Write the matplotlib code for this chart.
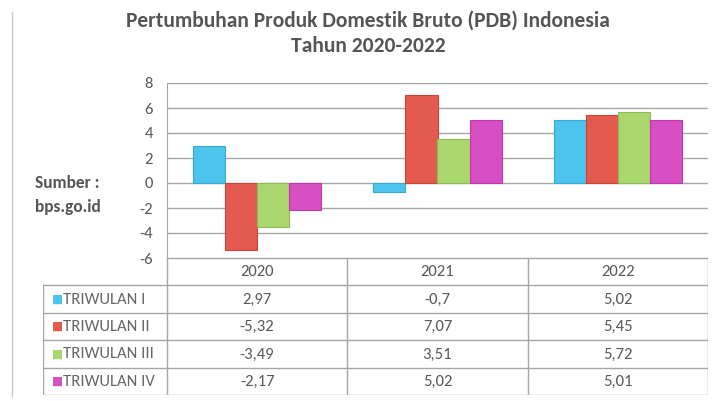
import numpy as np
import matplotlib.pyplot as plt
import matplotlib as mpl

plt.rcParams['font.family'] = ['Carlito', 'DejaVu Sans']
plt.rcParams['axes.unicode_minus'] = False

years = ['2020', '2021', '2022']
series = ['TRIWULAN I', 'TRIWULAN II', 'TRIWULAN III', 'TRIWULAN IV']
tw1 = [2.97, -0.7, 5.02]
tw2 = [-5.32, 7.07, 5.45]
tw3 = [-3.49, 3.51, 5.72]
tw4 = [-2.17, 5.02, 5.01]
labels = [['2,97', '-0,7', '5,02'],
          ['-5,32', '7,07', '5,45'],
          ['-3,49', '3,51', '5,72'],
          ['-2,17', '5,02', '5,01']]
colors = ['#4cc4ee', '#e55a4e', '#a9d76e', '#d84fc4']
edge = ['#38a9d2', '#c9443a', '#8cbd55', '#bb3aa8']

W, H = 716, 401
fig = plt.figure(figsize=(7.16, 4.01), dpi=100)
fig.patch.set_facecolor('white')

def fx(px):
    return px / W

def fy(py):
    return 1 - py / H

left, right = 167, 708
top, bottom = 83, 258
ax = fig.add_axes([fx(left), fy(bottom), fx(right - left), fy(top) - fy(bottom)])

values = [tw1, tw2, tw3, tw4]
x = np.arange(len(years))
bw = 0.178
for i, v in enumerate(values):
    ax.bar(x + (i - 1.5) * bw, v, bw, color=colors[i], edgecolor=edge[i],
           linewidth=0.8, zorder=3)

ax.set_xlim(-0.5, 2.5)
ax.set_ylim(-6, 8)
ax.set_yticks(range(-6, 9, 2))
ax.set_xticks([])
ax.grid(axis='y', color='#a6a6a6', linewidth=1, zorder=0)
for s in ['top', 'right', 'bottom']:
    ax.spines[s].set_visible(False)
ax.spines['left'].set_color('#a6a6a6')
ax.tick_params(axis='y', length=0, pad=10, labelsize=12, labelcolor='#595959')
ax.set_facecolor('none')

# data table below the plot
cat_px = (right - left) / 3.0
tleft = 43
tax = fig.add_axes([fx(tleft), fy(395), fx(right - tleft), fy(258) - fy(395)])
tax.set_xlim(-0.5 - (left - tleft) / cat_px, 2.5)
tax.set_ylim(5, 0)
tax.axis('off')
lc = '#a6a6a6'
x0 = -0.5 - (left - tleft) / cat_px
for r in range(1, 6):
    tax.plot([x0, 2.5], [r, r], color=lc, lw=1)
tax.plot([-0.5, 2.5], [0, 0], color=lc, lw=1)
tax.plot([x0, x0], [1, 5], color=lc, lw=1)
for c in [-0.5, 0.5, 1.5, 2.5]:
    tax.plot([c, c], [0, 5], color=lc, lw=1)

for j, yr in enumerate(years):
    tax.text(j, 0.5, yr, ha='center', va='center', fontsize=12, color='#595959')
for i, name in enumerate(series):
    tax.text(x0 + 0.083, i + 1.5, '■', ha='center', va='center', fontsize=8.5,
             color=colors[i], family='DejaVu Sans')
    tax.text(x0 + 0.113, i + 1.52, name, ha='left', va='center', fontsize=12,
             color='#666666')
    for j in range(3):
        tax.text(j, i + 1.52, labels[i][j], ha='center', va='center',
                 fontsize=12, color='#595959')

fig.text(fx(368), fy(21), 'Pertumbuhan Produk Domestik Bruto (PDB) Indonesia',
         ha='center', va='center', fontsize=15.5, fontweight='bold', color='#555555')
fig.text(fx(368), fy(46), 'Tahun 2020-2022', ha='center', va='center',
         fontsize=15.5, fontweight='bold', color='#555555')
fig.text(fx(35), fy(183), 'Sumber :', ha='left', va='center', fontsize=12.5,
         fontweight='bold', color='#555555')
fig.text(fx(35), fy(207), 'bps.go.id', ha='left', va='center', fontsize=12.5,
         fontweight='bold', color='#555555')

fig.add_artist(plt.Line2D([fx(12), fx(12)], [fy(12), fy(396)], color='#c8c8c8', lw=1))

fig.savefig('out.png', dpi=100, facecolor='white')
